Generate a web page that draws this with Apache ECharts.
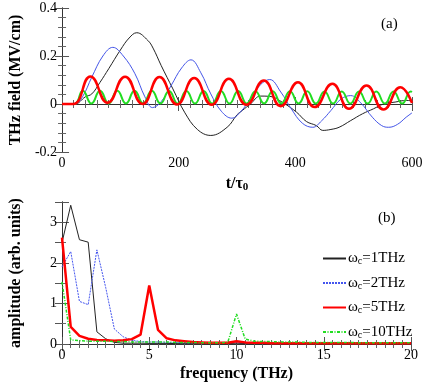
<!DOCTYPE html>
<html>
<head>
<meta charset="utf-8">
<script src="https://cdn.jsdelivr.net/npm/echarts@6/dist/echarts.min.js"></script>
<style>
  html, body { margin: 0; padding: 0; background: #fff; }
  #chart { width: 443px; height: 388px; }
</style>
</head>
<body>
<div id="chart"></div>
<script>
// (a) THz field vs t/tau0 [t, field]
const field1THz = [[0,0],[22,0],[40,0.03],[51,0.042],[65,0.09],[80,0.147],[100,0.225],[115,0.275],[128,0.297],[147,0.265],[156,0.233],[170,0.16],[190,0.063],[210,-0.034],[232,-0.106],[255,-0.131],[283,-0.097],[300,-0.045],[309,-0.027],[323,0],[340,0.033],[356,0.032],[379,0.005],[402,-0.034],[419,-0.073],[436,-0.09],[447,-0.11],[461,-0.106],[475,-0.097],[495,-0.069],[515,-0.041],[534,-0.02],[551,0],[571,0.008],[591,0.015],[600,0.012]]
const field2THz = [[0,0],[22,0],[35,0.03],[51,0.112],[70,0.2],[87,0.236],[105,0.2],[125,0.126],[142,0.03],[155,-0.015],[170,0.01],[187,0.077],[205,0.15],[221,0.184],[238,0.13],[255,0.042],[273,-0.03],[291,-0.059],[307,-0.03],[323,0.022],[340,0.08],[356,0.102],[375,0.05],[393,-0.02],[412,-0.08],[430,-0.097],[445,-0.07],[461,-0.027],[478,0.02],[495,0.035],[512,0.005],[532,-0.055],[548,-0.09],[560,-0.097],[575,-0.085],[590,-0.055],[600,-0.037]]
const field5THz = [[0,0],[19,0],[48.6,0.115],[78,0.005],[108,0.114],[138,0],[167,0.112],[197,-0.002],[226.5,0.108],[256.5,-0.003],[286,0.105],[316,-0.003],[346,0.098],[375,-0.009],[404.5,0.091],[433,-0.013],[463.5,0.084],[492,-0.02],[522,0.077],[551,-0.023],[580,0.07],[600,0.004]]
const field10THz = [[0,0],[21,0],[35.5,0.055],[50.3,0.002],[65.1,0.055],[79.9,0.002],[94.7,0.055],[109.5,0.002],[124.3,0.055],[139.1,0.002],[153.9,0.055],[168.7,0.002],[183.5,0.054],[198.3,0.002],[213.1,0.054],[227.9,0.002],[242.7,0.054],[257.5,0.002],[272.3,0.054],[287.1,0.002],[301.9,0.054],[316.7,0.002],[331.5,0.053],[346.3,0.002],[361.1,0.053],[375.9,0.002],[390.7,0.053],[405.5,0.002],[420.3,0.053],[435.1,0.002],[449.9,0.052],[464.7,0.002],[479.5,0.052],[494.3,0.002],[509.1,0.052],[523.9,0.002],[538.7,0.052],[553.5,0.002],[568.3,0.052],[583.1,0.002],[597.9,0.052],[600,0.05]]

// (b) spectra, frequency 0..20 THz every 0.5
const freq = []
for (let i = 0; i <= 40; i++) freq.push(i * 0.5)
const amp1THz = [2.5,3.42,2.57,2.51,0.3,0.13,0.04,0.02,0.02,0.02,0.015,0.015,0.015,0.01,0.01,0.01,0.01,0.01,0.01,0.01,0.02,0.01,0.01,0.01,0.01,0.01,0.01,0.01,0.01,0.01,0.01,0.01,0.01,0.01,0.01,0.01,0.01,0.01,0.01,0.01,0.01]
const amp2THz = [1.9,2.28,1.05,0.97,2.32,1.4,0.37,0.18,0.09,0.06,0.05,0.05,0.04,0.04,0.03,0.03,0.03,0.03,0.03,0.03,0.04,0.03,0.02,0.02,0.02,0.02,0.02,0.02,0.02,0.02,0.02,0.02,0.02,0.02,0.02,0.02,0.02,0.02,0.02,0.02,0.02]
const amp5THz = [2.62,0.42,0.2,0.13,0.1,0.09,0.08,0.09,0.12,0.23,1.44,0.35,0.14,0.09,0.07,0.05,0.04,0.03,0.03,0.03,0.07,0.04,0.03,0.03,0.02,0.02,0.02,0.02,0.02,0.02,0.02,0.02,0.02,0.02,0.02,0.02,0.02,0.02,0.02,0.02,0.02]
const amp10THz = [1.53,0.1,0.08,0.07,0.07,0.07,0.06,0.06,0.05,0.05,0.05,0.05,0.05,0.04,0.04,0.04,0.03,0.03,0.03,0.04,0.74,0.12,0.07,0.06,0.06,0.05,0.05,0.05,0.04,0.04,0.04,0.04,0.04,0.04,0.03,0.03,0.03,0.03,0.03,0.03,0.03]
const legendNames = ['ωc=1THz', 'ωc=2THz', 'ωc=5THz', 'ωc=10THz']

const chart = echarts.init(document.getElementById('chart'), null, {renderer: 'canvas'})
const serif = 'Liberation Serif'

function pairs(xs, ys) {
  return xs.map((x, i) => [x, ys[i]])
}

function xAxisOf(gridIndex, min, max, interval, minorSplit, top, name) {
  return {
    type: 'value', gridIndex: gridIndex, min: min, max: max, interval: interval,
    position: top ? 'top' : 'bottom',
    name: top ? '' : name, nameLocation: 'middle', nameGap: 22,
    axisLine: {lineStyle: {color: '#333', width: 1}},
    axisTick: {show: true, inside: true, length: 7, lineStyle: {color: '#555'}},
    minorTick: {show: true, splitNumber: minorSplit, length: 4, lineStyle: {color: '#666'}},
    axisLabel: {show: !top, color: '#000', fontFamily: serif, fontSize: 14, margin: 4},
    splitLine: {show: false}
  }
}

function yAxisOf(gridIndex, min, max, interval, minorSplit, right, name, fmt) {
  return {
    type: 'value', gridIndex: gridIndex, min: min, max: max, interval: interval,
    position: right ? 'right' : 'left',
    name: right ? '' : name, nameLocation: 'middle', nameGap: 38, nameRotate: 90,
    nameTextStyle: {fontFamily: serif, fontWeight: 'bold', fontSize: 16, color: '#000'},
    axisLine: {lineStyle: {color: '#333', width: 1}},
    axisTick: {show: true, inside: true, length: 7, lineStyle: {color: '#555'}},
    minorTick: {show: true, splitNumber: minorSplit, length: 4, lineStyle: {color: '#666'}},
    axisLabel: {show: !right, color: '#000', fontFamily: serif, fontSize: 14, margin: 5, formatter: fmt},
    splitLine: {show: false}
  }
}

const topX = xAxisOf(0, 0, 600, 200, 10, false, '{t|t/τ}{s|0}')
topX.nameTextStyle = {rich: {
  t: {fontFamily: serif, fontWeight: 'bold', fontSize: 16, color: '#000'},
  s: {fontFamily: serif, fontWeight: 'bold', fontSize: 11, color: '#000', verticalAlign: 'bottom', padding: [8, 0, 0, 0]}
}}
const botX = xAxisOf(1, 0, 20, 5, 10, false, 'frequency (THz)')
botX.nameTextStyle = {fontFamily: serif, fontWeight: 'bold', fontSize: 16, color: '#000'}

const option = {
  backgroundColor: '#fff',
  animation: false,
  grid: [
    {left: 58, top: 8, width: 354, height: 144},
    {left: 57, top: 202, width: 354, height: 142}
  ],
  xAxis: [
    topX,
    botX,
    xAxisOf(0, 0, 600, 200, 10, true),
    xAxisOf(1, 0, 20, 5, 10, true)
  ],
  yAxis: [
    yAxisOf(0, -0.2, 0.4, 0.2, 5, false, 'THz field (MV/cm)', v => Math.abs(v) < 1e-9 ? '0' : v.toFixed(1)),
    yAxisOf(1, 0, 3.5, 1, 2, false, 'amplitude (arb. units)', v => v > 3.2 ? '' : String(v)),
    yAxisOf(0, -0.2, 0.4, 0.2, 5, true),
    yAxisOf(1, 0, 3.5, 0.5, 1, true)
  ],
  legend: {
    data: legendNames,
    orient: 'vertical',
    left: 317, top: 246,
    itemWidth: 23, itemHeight: 14, itemGap: 9,
    itemStyle: {opacity: 0},
    formatter: function (name) {
      return '{w|ω}{s|c}{w|' + name.slice(2) + '}'
    },
    textStyle: {
      padding: [0, 0, 0, -3],
      rich: {
        w: {fontFamily: serif, fontSize: 15, color: '#000'},
        s: {fontFamily: serif, fontSize: 10, color: '#000', verticalAlign: 'bottom', padding: [6, 0, 0, 0]}
      }
    }
  },
  graphic: [
    {type: 'text', left: 381, top: 17, style: {text: '(a)', fontFamily: serif, fontSize: 15, fill: '#000'}},
    {type: 'text', left: 378, top: 211, style: {text: '(b)', fontFamily: serif, fontSize: 15, fill: '#000'}}
  ],
  series: [
    {name: 'E1', type: 'line', xAxisIndex: 0, yAxisIndex: 0, data: field1THz, showSymbol: false, smooth: 0.4,
      lineStyle: {color: '#222', width: 1}},
    {name: 'E2', type: 'line', xAxisIndex: 0, yAxisIndex: 0, data: field2THz, showSymbol: false, smooth: 0.4,
      lineStyle: {color: '#4455e8', width: 1}},
    {name: 'E10', type: 'line', xAxisIndex: 0, yAxisIndex: 0, data: field10THz, showSymbol: false, smooth: 0.5,
      lineStyle: {color: '#22dd22', width: 2}},
    {name: 'E5', type: 'line', xAxisIndex: 0, yAxisIndex: 0, data: field5THz, showSymbol: false, smooth: 0.5,
      lineStyle: {color: '#ff0000', width: 2.5}},
    {name: legendNames[0], type: 'line', xAxisIndex: 1, yAxisIndex: 1, data: pairs(freq, amp1THz), symbol: 'none',
      color: '#222', lineStyle: {color: '#222', width: 1}},
    {name: legendNames[1], type: 'line', xAxisIndex: 1, yAxisIndex: 1, data: pairs(freq, amp2THz), symbol: 'none',
      color: '#4455ee', lineStyle: {color: '#4455ee', width: 1, type: [2, 1]}},
    {name: legendNames[2], type: 'line', xAxisIndex: 1, yAxisIndex: 1, data: pairs(freq, amp5THz), symbol: 'none',
      color: '#ff0000', lineStyle: {color: '#ff0000', width: 2.5}},
    {name: legendNames[3], type: 'line', xAxisIndex: 1, yAxisIndex: 1, data: pairs(freq, amp10THz), symbol: 'none',
      color: '#22dd22', lineStyle: {color: '#22dd22', width: 1.5, type: [3, 1.5, 1, 1.5]}}
  ]
}
chart.setOption(option)
</script>
</body>
</html>
